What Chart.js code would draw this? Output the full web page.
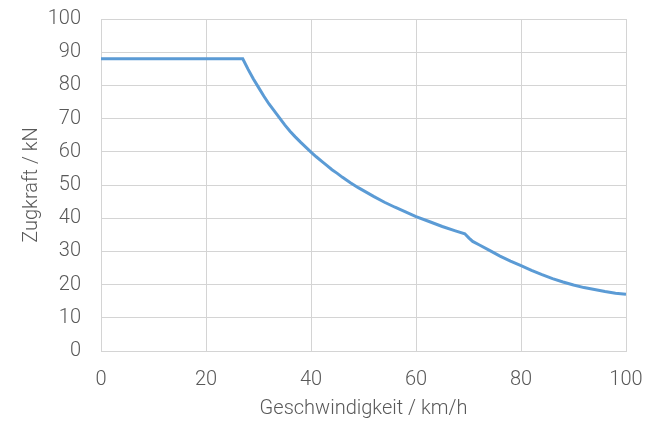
<!DOCTYPE html>
<html>
<head>
<meta charset="utf-8">
<script src="https://cdn.jsdelivr.net/npm/chart.js@4"></script>
<style>
  html, body { margin: 0; padding: 0; background: #fff; }
  #wrap { width: 649px; height: 421px; }
</style>
</head>
<body>
<div id="wrap"><canvas id="zugkraftChart" width="649" height="421"></canvas></div>
<script>
// Geschwindigkeit (km/h) und Zugkraft (kN)
const speed = [0, 27, 28, 29, 30, 31, 32, 33, 34, 35, 36, 37, 38, 39, 40, 41, 42, 43, 44, 45, 46, 47.5, 49, 50, 52, 54, 56, 58, 60, 62.5, 65, 67.5, 69.3,
               70.1, 70.8, 72, 74, 76, 78, 80, 82, 84, 86, 88, 90, 92, 94, 96, 98, 100];
const force = [88, 88, 84.9, 82.0, 79.4, 76.8, 74.4, 72.3, 70.2, 68.1, 66.2, 64.5, 62.9, 61.4, 59.9, 58.5, 57.2, 55.9, 54.6, 53.5, 52.3, 50.7, 49.2, 48.3, 46.5, 44.8, 43.3, 41.9, 40.5, 39.0, 37.5, 36.2, 35.3,
               34.0, 33.0, 32.0, 30.3, 28.6, 27.1, 25.7, 24.3, 23.0, 21.8, 20.8, 19.9, 19.1, 18.5, 17.9, 17.4, 17.1];

const xTicks = [0, 20, 40, 60, 80, 100];
const yTicks = [0, 10, 20, 30, 40, 50, 60, 70, 80, 90, 100];

const points = speed.map((v, i) => ({ x: v, y: force[i] }));

const textColor = '#595959';
const gridColor = '#d4d4d4';
const font = { family: 'Roboto', size: 20, weight: '300' };

new Chart(document.getElementById('zugkraftChart'), {
  type: 'line',
  data: {
    datasets: [{
      data: points,
      borderColor: '#5b9bd5',
      borderWidth: 3,
      pointRadius: 0,
      tension: 0,
      fill: false
    }]
  },
  options: {
    responsive: false,
    animation: false,
    layout: { padding: { left: 0, right: 23, top: 19, bottom: 0 } },
    plugins: {
      legend: { display: false },
      tooltip: { enabled: false }
    },
    scales: {
      x: {
        type: 'linear',
        min: 0,
        max: 100,
        afterBuildTicks: (scale) => { scale.ticks = xTicks.map(v => ({ value: v })); },
        afterFit: (scale) => {
          scale.height = 70;
          scale.paddingLeft = 0;
          scale.paddingRight = 0;
        },
        grid: { color: gridColor, lineWidth: 1, drawTicks: false },
        border: { color: gridColor },
        ticks: { color: textColor, font: font, padding: 17, maxRotation: 0 },
        title: {
          display: true,
          text: 'Geschwindigkeit / km/h',
          color: textColor,
          font: font,
          padding: { top: 0, bottom: 0 }
        }
      },
      y: {
        min: 0,
        max: 100,
        afterBuildTicks: (scale) => { scale.ticks = yTicks.map(v => ({ value: v })); },
        afterFit: (scale) => {
          scale.width = 101;
          scale.paddingTop = 0;
          scale.paddingBottom = 0;
        },
        grid: { color: gridColor, lineWidth: 1, drawTicks: false },
        border: { color: gridColor },
        ticks: { color: textColor, font: font, padding: 20 },
        title: {
          display: true,
          text: 'Zugkraft / kN',
          color: textColor,
          font: font,
          padding: { top: 20, bottom: 0 }
        }
      }
    }
  }
});
</script>
</body>
</html>
